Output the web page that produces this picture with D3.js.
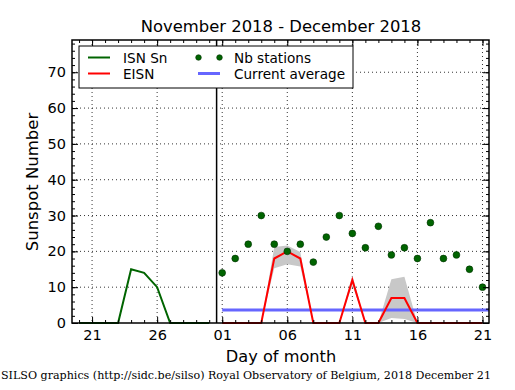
<!DOCTYPE html>
<html>
<head>
<meta charset="utf-8">
<script src="https://cdn.jsdelivr.net/npm/d3@7"></script>
<style>
  body { margin: 0; background: #fff; }
  svg { display: block; font-family: "DejaVu Sans", sans-serif; }
</style>
</head>
<body>
<div id="container"></div>
<script>
// data

const isnDates = ["2018-11-20", "2018-11-21", "2018-11-22", "2018-11-23", "2018-11-24", "2018-11-25",
                  "2018-11-26", "2018-11-27", "2018-11-28", "2018-11-29", "2018-11-30"];
const isnValues = [0, 0, 0, 0, 15, 14, 10, 0, 0, 0, 0];

const eisnDates = ["2018-12-01", "2018-12-02", "2018-12-03", "2018-12-04", "2018-12-05", "2018-12-06",
                   "2018-12-07", "2018-12-08", "2018-12-09", "2018-12-10", "2018-12-11", "2018-12-12",
                   "2018-12-13", "2018-12-14", "2018-12-15", "2018-12-16", "2018-12-17", "2018-12-18",
                   "2018-12-19", "2018-12-20", "2018-12-21"];
const eisnValues = [0, 0, 0, 0, 18, 20, 18, 0, 0, 0, 12, 0, 0, 7, 7, 0, 0, 0, 0, 0, 0];
const eisnLow    = [0, 0, 0, 0, 15.3, 16.4, 15.8, 0, 0, 0, 10.7, 0, 0, 1.4, 1.1, 0, 0, 0, 0, 0, 0];
const eisnHigh   = [0, 0, 0, 0, 21.2, 21.6, 19.8, 0, 0, 0, 13.3, 0, 0, 12.2, 12.9, 0, 0, 0, 0, 0, 0];
const stationCounts = [14, 18, 22, 30, 22, 20, 22, 17, 24, 30, 25, 21, 27, 19, 21, 18, 28, 18, 19, 15, 10];

const currentAverage = 3.6;
const averageRange = ["2018-12-01", "2018-12-21T12:00"];
const separatorDate = "2018-11-30T13:40";

const xTickDates = ["2018-11-21", "2018-11-26", "2018-12-01", "2018-12-06", "2018-12-11", "2018-12-16", "2018-12-21"];
const yTickValues = [0, 10, 20, 30, 40, 50, 60, 70];

const parse = s => new Date(s + (s.length > 10 ? ":00Z" : "T00:00:00Z"));

// layout

const width = 515, height = 390;
const plotLeft = 72, plotRight = 489, plotTop = 40, plotBottom = 323;

const x = d3.scaleUtc()
    .domain([parse("2018-11-19T11:00"), parse("2018-12-21T12:00")])
    .range([plotLeft, plotRight]);

const y = d3.scaleLinear()
    .domain([0, 79])
    .range([plotBottom, plotTop]);

const svg = d3.select("#container").append("svg")
    .attr("width", width)
    .attr("height", height);

svg.append("defs").append("clipPath").attr("id", "plot")
  .append("rect").attr("x", plotLeft).attr("y", plotTop - 1)
  .attr("width", plotRight - plotLeft).attr("height", plotBottom - plotTop + 2);

// grid

const grid = svg.append("g").attr("stroke", "#000").attr("stroke-width", 0.8).attr("stroke-dasharray", "1,3");
grid.selectAll(".gx").data(xTickDates).join("line")
    .attr("x1", d => x(parse(d))).attr("x2", d => x(parse(d)))
    .attr("y1", plotTop).attr("y2", plotBottom);
grid.selectAll(".gy").data(yTickValues.slice(1)).join("line")
    .attr("x1", plotLeft).attr("x2", plotRight)
    .attr("y1", d => y(d)).attr("y2", d => y(d));

const plot = svg.append("g").attr("clip-path", "url(#plot)");

// uncertainty band

const eisn = eisnDates.map((d, i) => ({date: parse(d), v: eisnValues[i], lo: eisnLow[i], hi: eisnHigh[i], n: stationCounts[i]}));

plot.append("path")
    .datum(eisn)
    .attr("fill", "#c8c8c8")
    .attr("d", d3.area().x(d => x(d.date)).y0(d => y(d.lo)).y1(d => y(d.hi)));

// current average

plot.append("line")
    .attr("x1", x(parse(averageRange[0]))).attr("x2", x(parse(averageRange[1])))
    .attr("y1", y(currentAverage)).attr("y2", y(currentAverage))
    .attr("stroke", "#6666ff").attr("stroke-width", 3);

// ISN line

const isn = isnDates.map((d, i) => ({date: parse(d), v: isnValues[i]}));
plot.append("path")
    .datum(isn)
    .attr("fill", "none").attr("stroke", "#006400").attr("stroke-width", 2)
    .attr("d", d3.line().x(d => x(d.date)).y(d => y(d.v)));

// EISN line

plot.append("path")
    .datum(eisn)
    .attr("fill", "none").attr("stroke", "#ff0000").attr("stroke-width", 2)
    .attr("d", d3.line().x(d => x(d.date)).y(d => y(d.v)));

// stations

plot.selectAll("circle")
    .data(eisn)
    .join("circle")
    .attr("cx", d => x(d.date))
    .attr("cy", d => y(d.n))
    .attr("r", 3.4)
    .attr("fill", "#006400")
    .attr("stroke", "#003000")
    .attr("stroke-width", 0.6);

// separator

svg.append("line")
    .attr("x1", x(parse(separatorDate))).attr("x2", x(parse(separatorDate)))
    .attr("y1", plotTop).attr("y2", plotBottom)
    .attr("stroke", "#000").attr("stroke-width", 1.5);

// axes (ticks inward)

const dayTicks = d3.utcDay.range(parse("2018-11-20"), parse("2018-12-22"));
const minorY = d3.range(0, 79, 2);

function axisStyle(g) {
  g.select(".domain").remove();
  g.selectAll("line").attr("stroke", "#000");
  g.selectAll("text").attr("font-family", "DejaVu Sans").attr("font-size", "14.5px").attr("fill", "#000");
}

svg.append("g").attr("transform", `translate(0,${plotBottom})`)
    .call(d3.axisBottom(x).tickValues(dayTicks).tickSize(-3).tickFormat(""))
    .call(axisStyle);
svg.append("g").attr("transform", `translate(0,${plotBottom})`)
    .call(d3.axisBottom(x).tickValues(xTickDates.map(parse)).tickSize(-6).tickPadding(7).tickFormat(d3.utcFormat("%d")))
    .call(axisStyle);
svg.append("g").attr("transform", `translate(0,${plotTop})`)
    .call(d3.axisTop(x).tickValues(dayTicks).tickSize(-3).tickFormat(""))
    .call(axisStyle);
svg.append("g").attr("transform", `translate(0,${plotTop})`)
    .call(d3.axisTop(x).tickValues(xTickDates.map(parse)).tickSize(-6).tickFormat(""))
    .call(axisStyle);

svg.append("g").attr("transform", `translate(${plotLeft},0)`)
    .call(d3.axisLeft(y).tickValues(minorY).tickSize(-3).tickFormat(""))
    .call(axisStyle);
svg.append("g").attr("transform", `translate(${plotLeft},0)`)
    .call(d3.axisLeft(y).tickValues(yTickValues).tickSize(-6).tickPadding(6))
    .call(axisStyle);
svg.append("g").attr("transform", `translate(${plotRight},0)`)
    .call(d3.axisRight(y).tickValues(minorY).tickSize(-3).tickFormat(""))
    .call(axisStyle);
svg.append("g").attr("transform", `translate(${plotRight},0)`)
    .call(d3.axisRight(y).tickValues(yTickValues).tickSize(-6).tickFormat(""))
    .call(axisStyle);

// frame

svg.append("rect")
    .attr("x", plotLeft).attr("y", plotTop)
    .attr("width", plotRight - plotLeft).attr("height", plotBottom - plotTop)
    .attr("fill", "none").attr("stroke", "#000").attr("stroke-width", 1.5);

// legend

const legend = svg.append("g").attr("font-size", "13.6px");
legend.append("rect")
    .attr("x", 79).attr("y", 46).attr("width", 274).attr("height", 42)
    .attr("fill", "#fff").attr("stroke", "#000").attr("stroke-width", 1);

const legendItems = [
  {label: "ISN Sn", kind: "line", color: "#006400", lx: 88, tx: 123, ly: 57.5},
  {label: "EISN", kind: "line", color: "#ff0000", lx: 88, tx: 123, ly: 73.5},
  {label: "Nb stations", kind: "dots", color: "#006400", lx: 198, tx: 234, ly: 57.5},
  {label: "Current average", kind: "line", color: "#6666ff", lx: 198, tx: 234, ly: 73.5}
];

legendItems.forEach(d => {
  if (d.kind === "line") {
    legend.append("line")
        .attr("x1", d.lx).attr("x2", d.lx + 22).attr("y1", d.ly).attr("y2", d.ly)
        .attr("stroke", d.color).attr("stroke-width", d.color === "#6666ff" ? 3 : 2);
  } else {
    [d.lx + 0.5, d.lx + 21.5].forEach(cx => legend.append("circle")
        .attr("cx", cx).attr("cy", d.ly).attr("r", 2.8)
        .attr("fill", d.color).attr("stroke", "#003000").attr("stroke-width", 0.6));
  }
  legend.append("text")
      .attr("x", d.tx).attr("y", d.ly + 5)
      .text(d.label);
});

// titles

svg.append("text")
    .attr("x", 281).attr("y", 32)
    .attr("text-anchor", "middle").attr("font-size", "16.4px")
    .text("November 2018 - December 2018");

svg.append("text")
    .attr("x", 281).attr("y", 362)
    .attr("text-anchor", "middle").attr("font-size", "16.2px")
    .text("Day of month");

svg.append("text")
    .attr("transform", "translate(38,182) rotate(-90)")
    .attr("text-anchor", "middle").attr("font-size", "16.5px")
    .text("Sunspot Number");

svg.append("text")
    .attr("x", 1).attr("y", 379)
    .attr("font-family", "DejaVu Serif").attr("font-size", "11.1px")
    .text("SILSO graphics (http://sidc.be/silso) Royal Observatory of Belgium, 2018 December 21");
</script>
</body>
</html>
